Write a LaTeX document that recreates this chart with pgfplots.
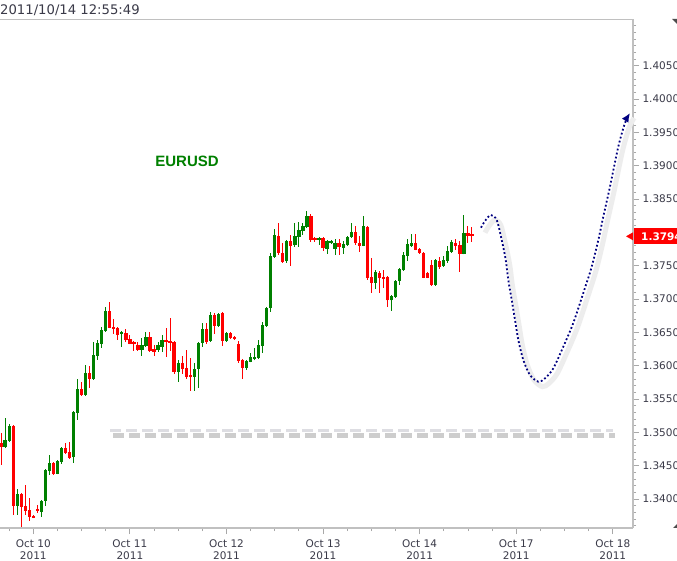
\documentclass[border=0pt]{standalone}
\usepackage{fontspec}
\setmainfont{DejaVu Sans}
\newfontfamily\arialf{Liberation Sans}
\usepackage{pgfplots}
\usepackage{pgfplotstable}
\pgfplotsset{compat=1.18}
\usetikzlibrary{arrows.meta}
\definecolor{cg}{HTML}{008000}
\definecolor{cr}{HTML}{FF0000}
\definecolor{nv}{HTML}{000080}
\definecolor{axgray}{HTML}{C0C0C0}
\definecolor{tickgray}{HTML}{A8A8A8}
\definecolor{lbl}{HTML}{3A3A48}
\newcommand\lblfont{\fontsize{10.5bp}{12bp}\selectfont}

% hourly candles: h = hours since Oct 10 00:00 (trading time)
\pgfplotstableread{
h o hi lo c
-7 1.3478 1.3522 1.3477 1.3489
-6 1.3487 1.3513 1.3486 1.3510
-4 1.3390 1.3415 1.3376 1.3408
2 1.3381 1.3398 1.3373 1.3397
3 1.3397 1.3445 1.3390 1.3444
4 1.3442 1.3466 1.3436 1.3454
6 1.3438 1.3458 1.3437 1.3457
7 1.3456 1.3478 1.3453 1.3477
10 1.3463 1.3532 1.3454 1.3531
11 1.3529 1.3580 1.3519 1.3565
13 1.3556 1.3601 1.3555 1.3589
15 1.3580 1.3636 1.3579 1.3616
16 1.3615 1.3639 1.3609 1.3634
17 1.3633 1.3658 1.3627 1.3654
18 1.3652 1.3688 1.3651 1.3682
22 1.3648 1.3652 1.3628 1.3651
27 1.3624 1.3642 1.3615 1.3631
28 1.3630 1.3651 1.3628 1.3643
31 1.3624 1.3636 1.3621 1.3631
32 1.3628 1.3646 1.3621 1.3639
36 1.3591 1.3609 1.3576 1.3604
40 1.3583 1.3604 1.3562 1.3595
41 1.3595 1.3636 1.3567 1.3634
42 1.3634 1.3664 1.3628 1.3655
44 1.3637 1.3681 1.3636 1.3676
46 1.3660 1.3679 1.3658 1.3678
48 1.3637 1.3651 1.3636 1.3649
53 1.3597 1.3609 1.3594 1.3607
54 1.3606 1.3619 1.3605 1.3613
55 1.3610 1.3627 1.3608 1.3613
56 1.3612 1.3639 1.3610 1.3631
57 1.3630 1.3666 1.3619 1.3661
58 1.3660 1.3688 1.3658 1.3687
59 1.3687 1.3769 1.3681 1.3765
60 1.3763 1.3805 1.3762 1.3796
63 1.3757 1.3788 1.3754 1.3787
65 1.3781 1.3814 1.3778 1.3795
66 1.3793 1.3816 1.3778 1.3804
67 1.3802 1.3814 1.3796 1.3810
68 1.3808 1.3832 1.3807 1.3825
71 1.3789 1.3793 1.3781 1.3792
73 1.3775 1.3788 1.3768 1.3787
74 1.3784 1.3788 1.3783 1.3787
75 1.3775 1.3790 1.3766 1.3784
77 1.3777 1.3787 1.3768 1.3783
78 1.3781 1.3794 1.3780 1.3793
79 1.3793 1.3814 1.3792 1.3801
82 1.3780 1.3825 1.3779 1.3810
85 1.3724 1.3744 1.3715 1.3741
89 1.3698 1.3706 1.3682 1.3704
90 1.3703 1.3728 1.3702 1.3727
91 1.3727 1.3746 1.3721 1.3745
92 1.3744 1.3771 1.3742 1.3766
93 1.3765 1.3790 1.3757 1.3783
94 1.3780 1.3798 1.3778 1.3784
100 1.3721 1.3760 1.3720 1.3759
102 1.3750 1.3765 1.3748 1.3759
103 1.3757 1.3780 1.3754 1.3772
104 1.3771 1.3789 1.3769 1.3786
107 1.3768 1.3826 1.3767 1.3799
}\greenc

\pgfplotstableread{
h o hi lo c
-8 1.3484 1.3499 1.3451 1.3478
-5 1.3510 1.3511 1.3376 1.3390
-3 1.3408 1.3409 1.3358 1.3388
-2 1.3390 1.3421 1.3376 1.3382
-1 1.3383 1.3402 1.3367 1.3373
0 1.3375 1.3376 1.3371 1.3372
1 1.3385 1.3391 1.3379 1.3382
5 1.3454 1.3455 1.3436 1.3438
8 1.3477 1.3484 1.3468 1.3469
9 1.3471 1.3486 1.3460 1.3462
12 1.3565 1.3576 1.3555 1.3556
14 1.3589 1.3600 1.3567 1.3580
19 1.3682 1.3696 1.3656 1.3657
20 1.3658 1.3670 1.3648 1.3655
21 1.3657 1.3658 1.3639 1.3646
23 1.3649 1.3655 1.3636 1.3639
24 1.3640 1.3646 1.3632 1.3633
25 1.3636 1.3637 1.3622 1.3633
26 1.3631 1.3636 1.3622 1.3624
29 1.3643 1.3651 1.3621 1.3622
30 1.3625 1.3631 1.3615 1.3621
33 1.3639 1.3657 1.3613 1.3636
34 1.3637 1.3672 1.3622 1.3634
35 1.3636 1.3637 1.3588 1.3591
37 1.3604 1.3615 1.3588 1.3595
38 1.3597 1.3624 1.3580 1.3583
39 1.3586 1.3612 1.3562 1.3583
43 1.3655 1.3664 1.3633 1.3636
45 1.3676 1.3679 1.3648 1.3660
47 1.3679 1.3680 1.3630 1.3637
49 1.3649 1.3650 1.3640 1.3642
50 1.3643 1.3644 1.3639 1.3640
51 1.3633 1.3637 1.3604 1.3607
52 1.3609 1.3610 1.3580 1.3597
61 1.3795 1.3814 1.3766 1.3769
62 1.3769 1.3784 1.3754 1.3756
64 1.3787 1.3796 1.3750 1.3780
69 1.3825 1.3828 1.3786 1.3789
70 1.3792 1.3793 1.3786 1.3789
72 1.3792 1.3793 1.3772 1.3777
76 1.3784 1.3790 1.3766 1.3778
80 1.3801 1.3810 1.3781 1.3784
81 1.3784 1.3795 1.3771 1.3780
83 1.3808 1.3809 1.3729 1.3732
84 1.3733 1.3762 1.3709 1.3724
86 1.3739 1.3742 1.3709 1.3732
87 1.3733 1.3744 1.3717 1.3730
88 1.3733 1.3734 1.3688 1.3698
95 1.3784 1.3798 1.3773 1.3774
96 1.3775 1.3777 1.3768 1.3769
97 1.3769 1.3771 1.3731 1.3732
98 1.3739 1.3741 1.3731 1.3732
99 1.3751 1.3759 1.3720 1.3721
101 1.3757 1.3763 1.3745 1.3748
105 1.3784 1.3790 1.3774 1.3780
106 1.3781 1.3787 1.3741 1.3768
108 1.3799 1.3810 1.3784 1.3795
109 1.3798 1.3808 1.3786 1.3794
}\redc

\begin{document}
\begin{tikzpicture}
\useasboundingbox (0,0) rectangle (677bp,561bp);
\fill[white] (0,0) rectangle (677bp,561bp);
\begin{axis}[
  at={(0bp,33bp)}, anchor=south west,
  scale only axis, width=633bp, height=508.7bp,
  xmin=-8.275, xmax=149.03, ymin=1.33565, ymax=1.411955,
  axis x line*=bottom, axis y line*=right,
  axis line style={axgray, line width=2bp},
  tick align=outside,
  major tick length=6bp, minor tick length=3bp,
  tick style={tickgray, line width=0.8bp},
  xtick={0,24,48,72,96,120,144},
  xticklabels={{Oct 10\\2011},{Oct 11\\2011},{Oct 12\\2011},{Oct 13\\2011},{Oct 14\\2011},{Oct 17\\2011},{Oct 18\\2011}},
  minor xtick={-6,6,12,18,30,36,42,54,60,66,78,84,90,102,108,114,126,132,138},
  ytick={1.340,1.345,1.350,1.355,1.360,1.365,1.370,1.375,1.385,1.390,1.395,1.400,1.405},
  yticklabels={1.3400,1.3450,1.3500,1.3550,1.3600,1.3650,1.3700,1.3750,1.3850,1.3900,1.3950,1.4000,1.4050},
  minor ytick={1.336,1.337,...,1.411},
  xticklabel style={font=\lblfont, text=lbl, align=center, yshift=-2bp},
  yticklabel style={font=\lblfont, text=lbl},
  clip mode=individual,
]
% support line
\addplot[draw=gray!55, opacity=0.7, line width=4.5bp, dash pattern=on 11bp off 5bp, forget plot]
  coordinates {(19.9,1.3495) (144.6,1.3495)};
\addplot[draw=blue!8!gray!25, line width=3bp, dash pattern=on 11bp off 5bp, forget plot]
  coordinates {(19.1,1.3503) (144.0,1.3503)};
% wicks
\addplot[draw=none, mark=none, forget plot, error bars/.cd, y dir=plus, y explicit, error mark=none,
  error bar style={draw=cg, line width=1bp, solid}]
  table[x=h, y=lo, y error expr=\thisrow{hi}-\thisrow{lo}] {\greenc};
\addplot[draw=none, mark=none, forget plot, error bars/.cd, y dir=plus, y explicit, error mark=none,
  error bar style={draw=cr, line width=1bp, solid}]
  table[x=h, y=lo, y error expr=\thisrow{hi}-\thisrow{lo}] {\redc};
% bodies
\addplot[draw=none, mark=none, forget plot, error bars/.cd, y dir=plus, y explicit, error mark=none,
  error bar style={draw=cg, line width=3.3bp, solid}]
  table[x=h, y=o, y error expr=\thisrow{c}-\thisrow{o}] {\greenc};
\addplot[draw=none, mark=none, forget plot, error bars/.cd, y dir=plus, y explicit, error mark=none,
  error bar style={draw=cr, line width=3.3bp, solid}]
  table[x=h, y=c, y error expr=\thisrow{o}-\thisrow{c}] {\redc};
% forecast path: shadow then dotted line
\addplot[smooth, draw=black!7, line width=5bp, xshift=4bp, yshift=-5bp, forget plot]
  coordinates {(111.26,1.3807) (112.25,1.3817) (113.67,1.3826) (115.16,1.38185) (116.40,1.37885)
   (117.40,1.37585) (118.04,1.37285) (118.89,1.36985) (119.71,1.36685) (120.53,1.36385)
   (121.77,1.36085) (123.43,1.3586) (125.50,1.3576) (127.16,1.3581) (129.22,1.3596)
   (131.71,1.36285) (134.19,1.3664) (136.68,1.3709) (138.77,1.37485) (140.41,1.37885)
   (141.65,1.38235) (143.31,1.38685) (145.38,1.39285) (147.04,1.3964) (148.29,1.3979)};
\addplot[smooth, draw=nv, line width=1.8bp, dash pattern=on 1.8bp off 2.3bp,
  -{Latex[length=9bp,width=8bp]}, forget plot]
  coordinates {(111.26,1.3807) (112.25,1.3817) (113.67,1.3826) (115.16,1.38185) (116.40,1.37885)
   (117.40,1.37585) (118.04,1.37285) (118.89,1.36985) (119.71,1.36685) (120.53,1.36385)
   (121.77,1.36085) (123.43,1.3586) (125.50,1.3576) (127.16,1.3581) (129.22,1.3596)
   (131.71,1.36285) (134.19,1.3664) (136.68,1.3709) (138.77,1.37485) (140.41,1.37885)
   (141.65,1.38235) (143.31,1.38685) (145.38,1.39285) (147.04,1.3964) (148.29,1.3979)};
\node[font=\arialf\bfseries\fontsize{15bp}{18bp}\selectfont, text=cg] at (axis cs:38.2,1.3907) {EURUSD};
\coordinate (pm) at (axis cs:149.03,1.3794);
\draw[axgray, line width=1.3bp] (rel axis cs:0,1) -- (rel axis cs:1,1);
\end{axis}
% current price marker
\fill[cr] ([xshift=1bp,yshift=-8bp]pm) rectangle ([xshift=60bp,yshift=8bp]pm);
\node[anchor=west, text=white, font=\bfseries\lblfont, inner sep=0pt] at ([xshift=8bp]pm) {1.3794};
\fill[cr] ([xshift=-7bp]pm) -- ([xshift=0bp,yshift=4bp]pm) -- ([xshift=0bp,yshift=-4bp]pm) -- cycle;
% title
\node[anchor=west, inner sep=0pt, font=\fontsize{13.2bp}{15bp}\selectfont, text=lbl] at (0bp,551bp) {2011/10/14 12:55:49};
% corner marks
\fill[black!70] (672bp,542bp) -- (677bp,542bp) -- (677bp,537bp) -- cycle;
\fill[black!70] (673bp,33bp) -- (677bp,33bp) -- (677bp,37bp) -- cycle;
\end{tikzpicture}
\end{document}
